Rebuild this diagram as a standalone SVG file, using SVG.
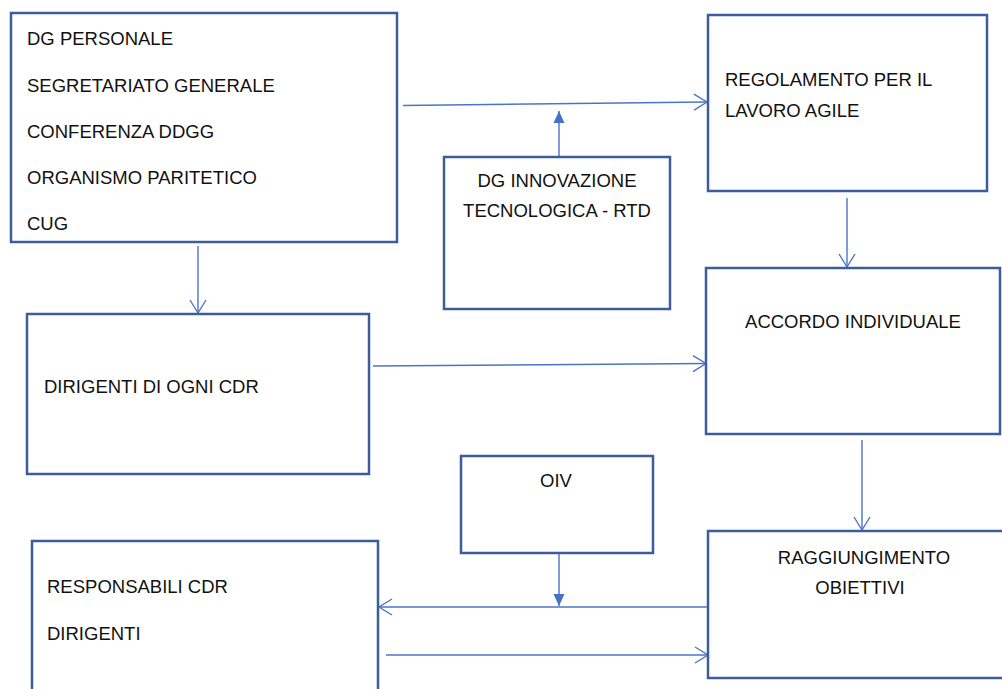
<svg xmlns="http://www.w3.org/2000/svg" width="1002" height="689" viewBox="0 0 1002 689">
<style>
.box{fill:#fff;stroke:#3C5C9C;stroke-width:2.5}
.t{font-family:"Liberation Sans",Arial,sans-serif;font-size:18.5px;fill:#111}
.c{text-anchor:middle}
.ln{stroke:#4C74C6;stroke-width:1.4;fill:none}
</style>
<defs>
<marker id="open" markerUnits="userSpaceOnUse" markerWidth="16" markerHeight="20" refX="14" refY="9" orient="auto">
<path d="M1,1 L14,9 L1,17" fill="none" stroke="#4C74C6" stroke-width="1.4"/>
</marker>
<marker id="solid" markerUnits="userSpaceOnUse" markerWidth="14" markerHeight="14" refX="12" refY="6" orient="auto">
<path d="M0,0.5 L12,6 L0,11.5 Z" fill="#4472C4"/>
</marker>
</defs>
<rect width="1002" height="689" fill="#fff"/>
<g id="connectors">
<line class="ln" x1="403" y1="105.5" x2="707" y2="102" marker-end="url(#open)"/>
<line class="ln" x1="559" y1="157" x2="559" y2="111" marker-end="url(#solid)"/>
<line class="ln" x1="198" y1="246" x2="198" y2="313" marker-end="url(#open)"/>
<line class="ln" x1="373" y1="366" x2="706" y2="363.5" marker-end="url(#open)"/>
<line class="ln" x1="847" y1="198" x2="847" y2="267" marker-end="url(#open)"/>
<line class="ln" x1="862" y1="440" x2="862" y2="530" marker-end="url(#open)"/>
<line class="ln" x1="559" y1="553" x2="559" y2="606" marker-end="url(#solid)"/>
<line class="ln" x1="708" y1="607" x2="379" y2="607" marker-end="url(#open)"/>
<line class="ln" x1="386" y1="655" x2="708" y2="655" marker-end="url(#open)"/>
</g>
<g id="n-dg-personale">
<rect class="box" x="11" y="13" width="386" height="229"/>
<text class="t" x="27" y="45">DG PERSONALE</text>
<text class="t" x="27" y="91.5">SEGRETARIATO GENERALE</text>
<text class="t" x="27" y="137.5">CONFERENZA DDGG</text>
<text class="t" x="27" y="184">ORGANISMO PARITETICO</text>
<text class="t" x="27" y="230">CUG</text>
</g>
<g id="n-dg-innovazione">
<rect class="box" x="444" y="157" width="226" height="152"/>
<text class="t c" x="557" y="187">DG INNOVAZIONE</text>
<text class="t c" x="557" y="217">TECNOLOGICA - RTD</text>
</g>
<g id="n-regolamento">
<rect class="box" x="708" y="15" width="279" height="176"/>
<text class="t" x="725" y="86">REGOLAMENTO PER IL</text>
<text class="t" x="725" y="117">LAVORO AGILE</text>
</g>
<g id="n-dirigenti">
<rect class="box" x="27" y="314" width="342" height="160"/>
<text class="t" x="44" y="393">DIRIGENTI DI OGNI CDR</text>
</g>
<g id="n-accordo">
<rect class="box" x="706" y="268" width="294" height="166"/>
<text class="t c" x="853" y="328">ACCORDO INDIVIDUALE</text>
</g>
<g id="n-oiv">
<rect class="box" x="461" y="456" width="192" height="97"/>
<text class="t c" x="556" y="487">OIV</text>
</g>
<g id="n-raggiungimento">
<rect class="box" x="708" y="531" width="300" height="147"/>
<text class="t c" x="864" y="564">RAGGIUNGIMENTO</text>
<text class="t c" x="860" y="594">OBIETTIVI</text>
</g>
<g id="n-responsabili">
<rect class="box" x="32" y="541" width="346" height="160"/>
<text class="t" x="47" y="593">RESPONSABILI CDR</text>
<text class="t" x="47" y="640">DIRIGENTI</text>
</g>
</svg>
